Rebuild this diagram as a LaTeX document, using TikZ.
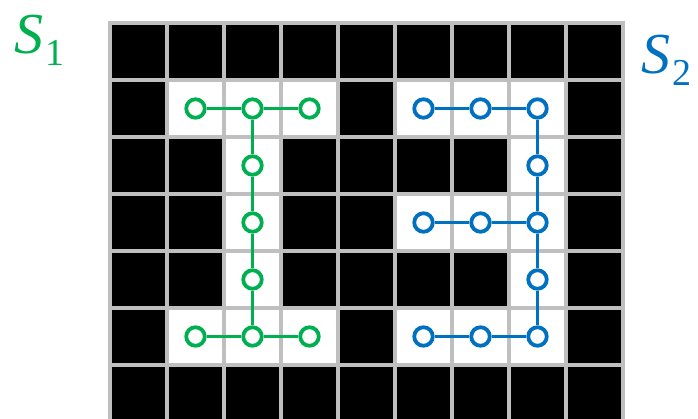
\documentclass[tikz,border=0pt]{standalone}
\usepackage{fontspec}
\usetikzlibrary{positioning}

\newfontfamily\labelfont{Liberation Serif}

\definecolor{sgreen}{RGB}{0,176,80}
\definecolor{sblue}{RGB}{0,112,192}
\definecolor{gridgrey}{RGB}{191,191,191}

% set name: italic S with an upright subscript
\newcommand{\setname}[1]{\textit{S}\kern2pt\raisebox{-0.22em}{\fontsize{38}{40}\selectfont #1}}

\begin{document}
\begin{tikzpicture}[x=1pt, y=-1pt,
pix/.style={circle, draw=#1, line width=3.8pt, fill=white, minimum size=18.5pt, inner sep=0pt},
link/.style={draw=#1, line width=2.2pt},
setlabel/.style={font=\labelfont\fontsize{58}{60}\selectfont, text=#1, inner sep=0pt}
]

\clip (0,0) rectangle (698,418);

% black background and the white cells of the two sets
\fill[black] (110,23) rectangle (623,422);
\foreach \c/\r in {1/1,2/1,3/1,2/2,2/3,2/4,1/5,2/5,3/5,
                   5/1,6/1,7/1,7/2,5/3,6/3,7/3,7/4,5/5,6/5,7/5}
  \fill[white] (110+57*\c,23+57*\r) rectangle ++(57,57);

% grid lines
\foreach \i in {0,...,9}
  \draw[gridgrey, line width=3.4pt] (110+57*\i,21.3) -- (110+57*\i,422);
\foreach \j in {0,...,7}
  \draw[gridgrey, line width=3.4pt] (108.3,23+57*\j) -- (624.7,23+57*\j);

% pixel nodes of S1 (green) and S2 (blue)
\foreach \c/\r in {1/1,2/1,3/1,2/2,2/3,2/4,1/5,2/5,3/5}
  \node (g-\c-\r) [pix=sgreen] at (110+57*\c+28.5,23+57*\r+28.5) {};
\foreach \c/\r in {5/1,6/1,7/1,7/2,5/3,6/3,7/3,7/4,5/5,6/5,7/5}
  \node (b-\c-\r) [pix=sblue] at (110+57*\c+28.5,23+57*\r+28.5) {};

% connections
\draw [link=sgreen] (g-1-1) -- (g-2-1);
\draw [link=sgreen] (g-2-1) -- (g-3-1);
\draw [link=sgreen] (g-2-1) -- (g-2-2);
\draw [link=sgreen] (g-2-2) -- (g-2-3);
\draw [link=sgreen] (g-2-3) -- (g-2-4);
\draw [link=sgreen] (g-2-4) -- (g-2-5);
\draw [link=sgreen] (g-1-5) -- (g-2-5);
\draw [link=sgreen] (g-2-5) -- (g-3-5);

\draw [link=sblue] (b-5-1) -- (b-6-1);
\draw [link=sblue] (b-6-1) -- (b-7-1);
\draw [link=sblue] (b-7-1) -- (b-7-2);
\draw [link=sblue] (b-7-2) -- (b-7-3);
\draw [link=sblue] (b-7-3) -- (b-7-4);
\draw [link=sblue] (b-7-4) -- (b-7-5);
\draw [link=sblue] (b-5-3) -- (b-6-3);
\draw [link=sblue] (b-6-3) -- (b-7-3);
\draw [link=sblue] (b-5-5) -- (b-6-5);
\draw [link=sblue] (b-6-5) -- (b-7-5);

% set labels
\node (s1) [setlabel=sgreen, anchor=base west] at (14,53) {\setname{1}};
\node (s2) [setlabel=sblue, anchor=base west] at (641,73) {\setname{2}};

\end{tikzpicture}
\end{document}
